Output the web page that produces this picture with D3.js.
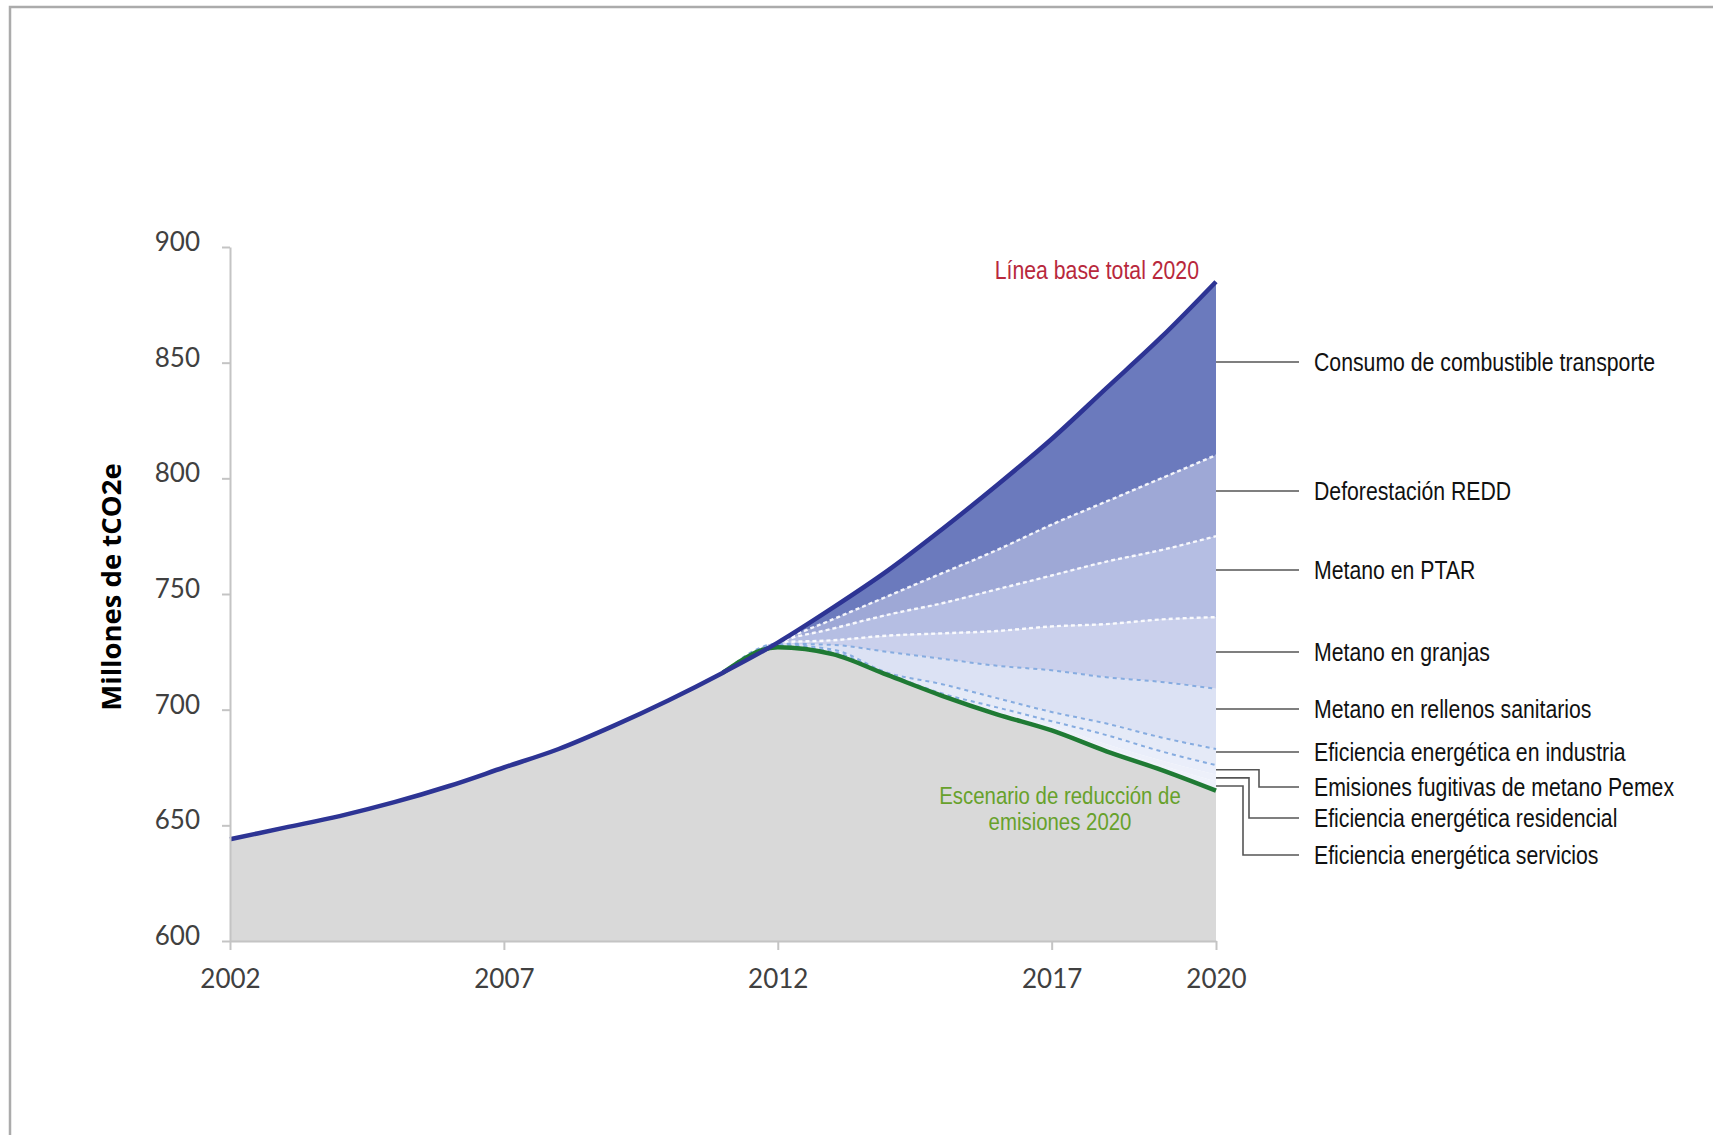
<!DOCTYPE html>
<html>
<head>
<meta charset="utf-8">
<script src="https://cdn.jsdelivr.net/npm/d3@7"></script>
<style>
    body { margin: 0; background: #fff; }
    .narrow { font-family: "Liberation Sans", Arial, sans-serif; }
    .axis text { font-family: Lato, "Open Sans", sans-serif; font-size: 26px; fill: #404040; }
    .axis path, .axis line { stroke: #c4c4c4; stroke-width: 2; }
</style>
</head>
<body>
<div id="vis-container"></div>
<script>

////////////////////////////////////
/////////////// Data ///////////////
////////////////////////////////////

const years = [2002, 2003, 2004, 2005, 2006, 2007, 2008, 2009, 2010, 2011,
    2012, 2013, 2014, 2015, 2016, 2017, 2018, 2019, 2020]

// escenario de reducción de emisiones (millones de tCO2e)
const escenarioReduccion = [644, 649, 654, 660, 667, 675, 683, 693, 704, 716,
    727, 724, 715, 706, 698, 691, 682, 674, 665]

// years in which each abatement measure is counted
const medidaYears = [2011, 2012, 2013, 2014, 2015, 2016, 2017, 2018, 2019, 2020]

// abatement per measure (millones de tCO2e)
const transporte = [0, 0, 5, 11, 19, 28, 37, 49, 61, 75]
const deforestacion = [0, 0, 4, 8, 13, 17, 22, 26, 31, 35]
const ptar = [0, 0, 5, 9, 13, 18, 22, 27, 30, 35]
const granjas = [0, 0.5, 2, 7, 11, 15, 19, 23, 27, 31]
const rellenos = [0, 0.5, 2, 9, 11, 14, 18, 20, 24, 26]
const industria = [0, 0.5, 1, 0.5, 4, 4, 4, 5, 6, 7]
const pemex = [0, 0.3, 0.5, 0.3, 0.5, 2, 2, 4, 4, 4]
const residencial = [0, 0.1, 0.3, 0.1, 0.3, 0.5, 1, 1.5, 2, 3]
const servicios = [0, 0.1, 0.2, 0.1, 0.2, 0.5, 1, 1.5, 2, 4]

const medidaKeys = ['transporte', 'deforestacion', 'ptar', 'granjas', 'rellenos',
    'industria', 'pemex', 'residencial', 'servicios']

const medidaLabels = ['Consumo de combustible transporte', 'Deforestación REDD',
    'Metano en PTAR', 'Metano en granjas', 'Metano en rellenos sanitarios',
    'Eficiencia energética en industria', 'Emisiones fugitivas de metano Pemex',
    'Eficiencia energética residencial', 'Eficiencia energética servicios']

const yTicks = [600, 650, 700, 750, 800, 850, 900]
const xTicks = [2002, 2007, 2012, 2017, 2020]

////////////////////////////////////
///////////// SVG Setup ////////////
////////////////////////////////////

const svgWidth = 1713
const svgHeight = 1135

const plot = { left: 230, right: 1216, top: 247, bottom: 941 }

// condensed look of the original labels
const narrowScale = 0.85

const svg = d3.select('#vis-container')
    .append('svg')
    .attr('width', svgWidth)
    .attr('height', svgHeight)

// grey frame of the original figure
svg.append('rect')
    .attr('x', 10)
    .attr('y', 7)
    .attr('width', svgWidth + 50)
    .attr('height', svgHeight + 50)
    .attr('fill', 'none')
    .attr('stroke', '#ababab')
    .attr('stroke-width', 2.5)

////////////////////////////////////
/////////////// Scales /////////////
////////////////////////////////////

const xScale = d3.scaleLinear()
    .domain([2002, 2020])
    .range([plot.left, plot.right])

const yScale = d3.scaleLinear()
    .domain([600, 900])
    .range([plot.bottom, plot.top])

const colorScale = d3.scaleOrdinal()
    .domain(medidaKeys)
    .range(['#6b7abd', '#9ea8d6', '#b5bee3', '#cad0ec', '#dce2f4',
        '#e5eaf7', '#eaeefa', '#edf0fa', '#eff2fb'])

////////////////////////////////////
///////// Data Wrangling ///////////
////////////////////////////////////

const seriesByKey = { transporte, deforestacion, ptar, granjas, rellenos,
    industria, pemex, residencial, servicios }

const table = years.map((year, i) => {
    const row = { year: year, escenario: escenarioReduccion[i] }
    const j = medidaYears.indexOf(year)
    medidaKeys.forEach(k => row[k] = j < 0 ? 0 : seriesByKey[k][j])
    return row
})

// bottom: reduction scenario, then measures stacked up to the baseline
const stackKeys = ['escenario'].concat(medidaKeys.slice().reverse())
const stacked = d3.stack().keys(stackKeys)(table)
const layer = key => stacked.find(s => s.key === key)

const curve = d3.curveMonotoneX
const startYear = medidaYears[0]

////////////////////////////////////
/////////////// Areas //////////////
////////////////////////////////////

const greyArea = d3.area()
    .x(d => xScale(d.data.year))
    .y0(yScale(600))
    .y1(d => yScale(d[1]))
    .curve(curve)

svg.append('path')
    .datum(layer('escenario'))
    .attr('d', greyArea)
    .attr('fill', '#d9d9d9')

const wedgeArea = d3.area()
    .defined(d => d.data.year >= startYear)
    .x(d => xScale(d.data.year))
    .y0(d => yScale(d[0]))
    .y1(d => yScale(d[1]))
    .curve(curve)

svg.selectAll('.wedge')
    .data(stacked.slice(1))
    .join('path')
    .attr('class', 'wedge')
    .attr('d', wedgeArea)
    .attr('fill', d => colorScale(d.key))

////////////////////////////////////
/////////////// Lines //////////////
////////////////////////////////////

const topLine = d3.line()
    .defined(d => d.data.year >= startYear)
    .x(d => xScale(d.data.year))
    .y(d => yScale(d[1]))
    .curve(curve)

// dotted boundaries between measures
const whiteBounds = ['deforestacion', 'ptar', 'granjas']
const blueBounds = ['rellenos', 'industria', 'pemex']

svg.selectAll('.bound-white')
    .data(whiteBounds)
    .join('path')
    .attr('class', 'bound-white')
    .attr('d', k => topLine(layer(k)))
    .attr('fill', 'none')
    .attr('stroke', '#ffffff')
    .attr('stroke-width', 2.4)
    .attr('stroke-dasharray', '4,3')
    .attr('opacity', 0.9)

svg.selectAll('.bound-blue')
    .data(blueBounds)
    .join('path')
    .attr('class', 'bound-blue')
    .attr('d', k => topLine(layer(k)))
    .attr('fill', 'none')
    .attr('stroke', '#86ace0')
    .attr('stroke-width', 2)
    .attr('stroke-dasharray', '4,4')

// reduction scenario line
svg.append('path')
    .attr('d', topLine(layer('escenario')))
    .attr('fill', 'none')
    .attr('stroke', '#1f7a34')
    .attr('stroke-width', 4.5)

// baseline = top of the stack
const baseLine = d3.line()
    .x(d => xScale(d.data.year))
    .y(d => yScale(d[1]))
    .curve(curve)

svg.append('path')
    .datum(stacked[stacked.length - 1])
    .attr('d', baseLine)
    .attr('fill', 'none')
    .attr('stroke', '#2d3494')
    .attr('stroke-width', 4.5)

////////////////////////////////////
////////////// Axis ////////////////
////////////////////////////////////

const yAxis = d3.axisLeft(yScale)
    .tickValues(yTicks)
    .tickSize(8)
    .tickSizeOuter(0)
    .tickPadding(22)

svg.append('g')
    .attr('class', 'axis')
    .attr('transform', `translate(${plot.left},0)`)
    .call(yAxis)
    .call(g => g.selectAll('text').attr('dy', '0.14em'))

const xAxis = d3.axisBottom(xScale)
    .tickValues(xTicks)
    .tickFormat(d3.format('d'))
    .tickSize(9)
    .tickSizeOuter(0)
    .tickPadding(20)

svg.append('g')
    .attr('class', 'axis')
    .attr('transform', `translate(0,${plot.bottom})`)
    .call(xAxis)

svg.append('text')
    .attr('transform', `translate(110,587) rotate(-90)`)
    .attr('text-anchor', 'middle')
    .attr('dominant-baseline', 'central')
    .attr('font-family', '"Open Sans", sans-serif')
    .attr('font-weight', 'bold')
    .attr('font-size', 27.5)
    .attr('fill', '#000')
    .text('Millones de tCO2e')

////////////////////////////////////
//////////// Annotations ///////////
////////////////////////////////////

const narrowAt = (x, y) => `translate(${x},${y}) scale(${narrowScale},1)`

svg.append('text')
    .attr('class', 'narrow')
    .attr('transform', narrowAt(1199, 270))
    .attr('dy', '0.35em')
    .attr('text-anchor', 'end')
    .attr('font-size', 25)
    .attr('fill', '#b8283c')
    .text('Línea base total 2020')

svg.append('text')
    .attr('class', 'narrow')
    .attr('transform', narrowAt(1060, 796))
    .attr('text-anchor', 'middle')
    .attr('font-size', 24)
    .attr('fill', '#67a12b')
    .selectAll('tspan')
    .data(['Escenario de reducción de', 'emisiones 2020'])
    .join('tspan')
    .attr('x', 0)
    .attr('dy', (d, i) => i === 0 ? '0.35em' : '1.05em')
    .text(d => d)

// label rows on the right and leader lines
const labelY = [362, 491, 570, 652, 709, 752, 787, 818, 855]
const elbowX = [null, null, null, null, null, null, 1259, 1249, 1243]
const leaderEnd = 1299
const labelX = 1314

const last = years.length - 1
const leaderPath = (k, i) => {
    if (elbowX[i] === null) {
        return `M${xScale(2020)},${labelY[i]}H${leaderEnd}`
    }
    const d = layer(k)[last]
    const yStart = yScale((d[0] + d[1]) / 2)
    return `M${xScale(2020)},${yStart}H${elbowX[i]}V${labelY[i]}H${leaderEnd}`
}

svg.selectAll('.leader')
    .data(medidaKeys)
    .join('path')
    .attr('class', 'leader')
    .attr('d', leaderPath)
    .attr('fill', 'none')
    .attr('stroke', '#555')
    .attr('stroke-width', 1.6)

svg.selectAll('.label')
    .data(medidaLabels)
    .join('text')
    .attr('class', 'label narrow')
    .attr('transform', (d, i) => narrowAt(labelX, labelY[i]))
    .attr('dy', '0.35em')
    .attr('font-size', 25)
    .attr('fill', '#111')
    .text(d => d)

</script>
</body>
</html>
